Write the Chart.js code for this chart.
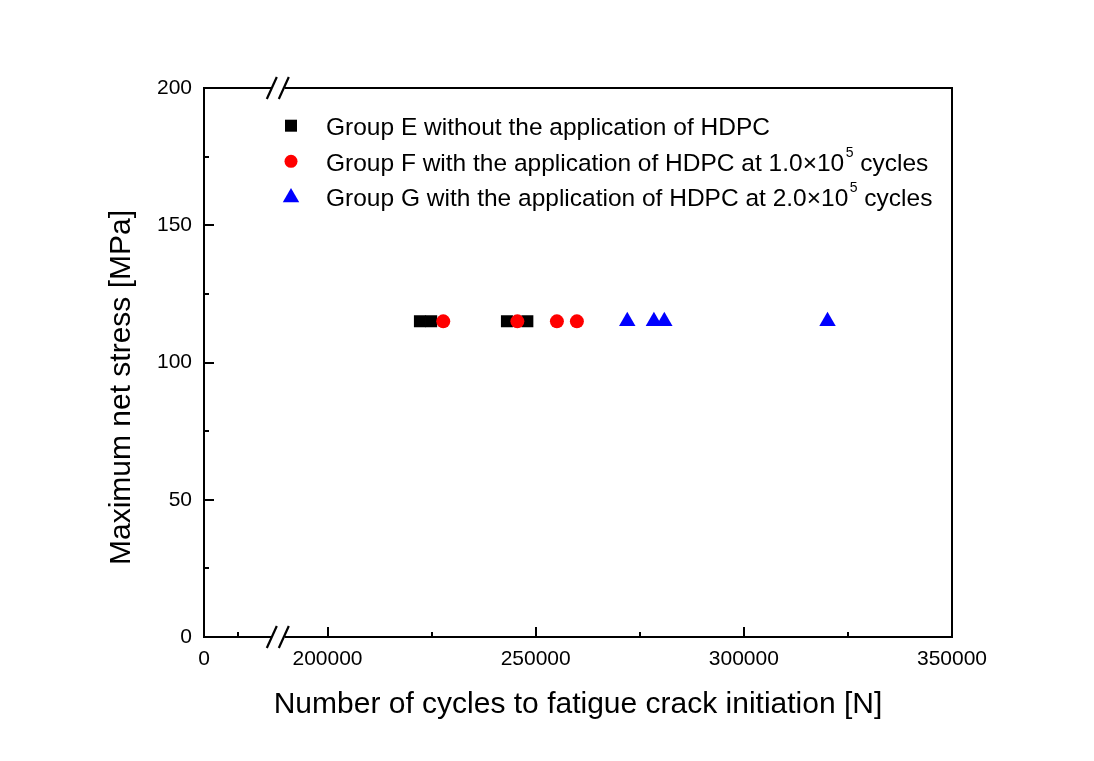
<!DOCTYPE html>
<html><head><meta charset="utf-8">
<script src="https://cdn.jsdelivr.net/npm/chart.js@4/dist/chart.umd.min.js"></script>
<style>html,body{margin:0;padding:0;background:#fff}canvas{display:block}</style>
</head><body>
<canvas id="c" width="1094" height="761"></canvas>
<script>
// ---- data ----
const seriesNames = [
  'Group E without the application of HDPC',
  'Group F with the application of HDPC at 1.0×10^5 cycles',
  'Group G with the application of HDPC at 2.0×10^5 cycles'
];
const groupE_cycles = [222200, 224900, 243100, 248000];
const groupE_stress = [115, 115, 115, 115];
const groupF_cycles = [227800, 245600, 255100, 259900];
const groupF_stress = [115, 115, 115, 115];
const groupG_cycles = [272000, 278400, 280900, 320100];
const groupG_stress = [115, 115, 115, 115];

const xTicksLeft = [0];
const xMinorLeft = [25000];
const xTicksRight = [200000, 250000, 300000, 350000];
const xMinorRight = [225000, 275000, 325000];
const yTicks = [0, 50, 100, 150, 200];
const yMinor = [25, 75, 125, 175];
const xTitle = 'Number of cycles to fatigue crack initiation [N]';
const yTitle = 'Maximum net stress [MPa]';

// ---- chart ----
const FONT = "'Liberation Sans', Arial, sans-serif";
const pts = (xs, ys) => xs.map((x, i) => ({x: x, y: ys[i]}));

const framePlugin = {
  id: 'frame',
  afterDatasetsDraw(chart) {
    const ctx = chart.ctx, ca = chart.chartArea;
    const xl = chart.scales.xL, xr = chart.scales.x, y = chart.scales.y;
    ctx.save();
    ctx.strokeStyle = '#000';
    ctx.lineWidth = 2;
    ctx.strokeRect(ca.left, ca.top, ca.right - ca.left, ca.bottom - ca.top);
    const vt = (px, len) => { ctx.beginPath(); ctx.moveTo(px, ca.bottom); ctx.lineTo(px, ca.bottom - len); ctx.stroke(); };
    const ht = (py, len) => { ctx.beginPath(); ctx.moveTo(ca.left, py); ctx.lineTo(ca.left + len, py); ctx.stroke(); };
    xTicksLeft.forEach(v => vt(Math.round(xl.getPixelForValue(v)), 10));
    xMinorLeft.forEach(v => vt(Math.round(xl.getPixelForValue(v)), 5));
    xTicksRight.forEach(v => vt(Math.round(xr.getPixelForValue(v)), 10));
    xMinorRight.forEach(v => vt(Math.round(xr.getPixelForValue(v)), 5));
    yTicks.forEach(v => ht(Math.round(y.getPixelForValue(v)), 10));
    yMinor.forEach(v => ht(Math.round(y.getPixelForValue(v)), 5));
    // axis break marks
    const bx = xl.right;
    [ca.top, ca.bottom].forEach(yy => {
      ctx.fillStyle = '#fff';
      ctx.fillRect(bx - 7, yy - 3, 13, 6);
      ctx.lineWidth = 2.2;
      [bx - 7, bx + 5].forEach(cx => {
        ctx.beginPath();
        ctx.moveTo(cx - 5, yy + 11);
        ctx.lineTo(cx + 5, yy - 11);
        ctx.stroke();
      });
    });
    ctx.restore();
  }
};

const legendPlugin = {
  id: 'innerLegend',
  afterDraw(chart) {
    const ctx = chart.ctx;
    const rows = [125.7, 161.3, 197];
    const mx = 291, tx = 326;
    ctx.save();
    chart.data.datasets.forEach((ds, i) => {
      const cy = rows[i];
      ctx.fillStyle = ds.backgroundColor;
      ctx.beginPath();
      if (ds.pointStyle === 'rect') {
        ctx.rect(mx - 6, cy - 6, 12, 12);
      } else if (ds.pointStyle === 'circle') {
        ctx.arc(mx, cy, 6.5, 0, Math.PI * 2);
      } else {
        const r = 9.5;
        ctx.moveTo(mx, cy - r * 0.75 - 2);
        ctx.lineTo(mx + r * 0.866, cy + r * 0.75 - 2 + 0);
        ctx.lineTo(mx - r * 0.866, cy + r * 0.75 - 2 + 0);
        ctx.closePath();
      }
      ctx.fill();
      ctx.fillStyle = '#000';
      ctx.textBaseline = 'alphabetic';
      ctx.textAlign = 'left';
      const parts = seriesNames[i].split(/\^(\d+)/);
      let x = tx;
      const base = cy + 9.3;
      parts.forEach((p, k) => {
        if (k % 2 === 1) {
          ctx.font = '14px ' + FONT;
          x += 1.5;
          ctx.fillText(p, x, base - 14);
          x += ctx.measureText(p).width;
        } else {
          ctx.font = '24.5px ' + FONT;
          ctx.fillText(p, x, base);
          x += ctx.measureText(p).width;
        }
      });
    });
    ctx.restore();
  }
};

const tickFont = {family: FONT, size: 21, weight: 'normal'};
const hideGrid = {display: false, drawTicks: false, drawOnChartArea: false};

new Chart(document.getElementById('c'), {
  type: 'scatter',
  data: {
    datasets: [
      {label: seriesNames[0], data: pts(groupE_cycles, groupE_stress), pointStyle: 'rect', pointRadius: 8.5,
       backgroundColor: '#000000', borderColor: '#000000', borderWidth: 0, order: 3, xAxisID: 'x', yAxisID: 'y'},
      {label: seriesNames[1], data: pts(groupF_cycles, groupF_stress), pointStyle: 'circle', pointRadius: 7,
       backgroundColor: '#FF0000', borderColor: '#FF0000', borderWidth: 0, order: 2, xAxisID: 'x', yAxisID: 'y'},
      {label: seriesNames[2], data: pts(groupG_cycles, groupG_stress), pointStyle: 'triangle', pointRadius: 9.5,
       backgroundColor: '#0000FF', borderColor: '#0000FF', borderWidth: 0, order: 1, xAxisID: 'x', yAxisID: 'y'}
    ]
  },
  options: {
    responsive: false,
    animation: false,
    devicePixelRatio: 1,
    layout: {padding: {left: 0, top: 88, right: 142, bottom: 38}},
    plugins: {
      legend: {display: false},
      tooltip: {enabled: false},
      title: {display: true, text: xTitle, position: 'bottom', fullSize: false, color: '#000',
              font: {family: FONT, size: 30, weight: 'normal', lineHeight: 1.2}, padding: {top: 10, bottom: 0}}
    },
    scales: {
      xL: {
        type: 'linear', position: 'bottom', stack: 'xs', stackWeight: 0.1, min: 0, max: 55000,
        grid: hideGrid, border: {display: true, color: '#000', width: 2},
        ticks: {font: tickFont, color: '#000', padding: 10, autoSkip: false, maxRotation: 0, callback: v => String(v)},
        afterBuildTicks: s => { s.ticks = xTicksLeft.map(v => ({value: v})); },
        afterFit: s => { s.height = 40; }
      },
      x: {
        type: 'linear', position: 'bottom', stack: 'xs', stackWeight: 0.9, min: 188300, max: 350000,
        grid: hideGrid, border: {display: true, color: '#000', width: 2},
        ticks: {font: tickFont, color: '#000', padding: 10, autoSkip: false, maxRotation: 0, callback: v => String(v)},
        afterBuildTicks: s => { s.ticks = xTicksRight.map(v => ({value: v})); },
        afterFit: s => { s.height = 40; }
      },
      y: {
        type: 'linear', position: 'left', min: 0, max: 200,
        grid: hideGrid, border: {display: true, color: '#000', width: 2},
        ticks: {font: tickFont, color: '#000', padding: 12, autoSkip: false, callback: v => String(v)},
        afterBuildTicks: s => { s.ticks = yTicks.map(v => ({value: v})); },
        title: {display: true, text: yTitle + '\u00A0'.repeat(6), color: '#000',
                font: {family: FONT, size: 30, weight: 'normal', lineHeight: 1.2}, padding: {top: 104, bottom: 0}},
        afterFit: s => { s.width = 204; }
      }
    }
  },
  plugins: [framePlugin, legendPlugin]
});
</script>
</body></html>
